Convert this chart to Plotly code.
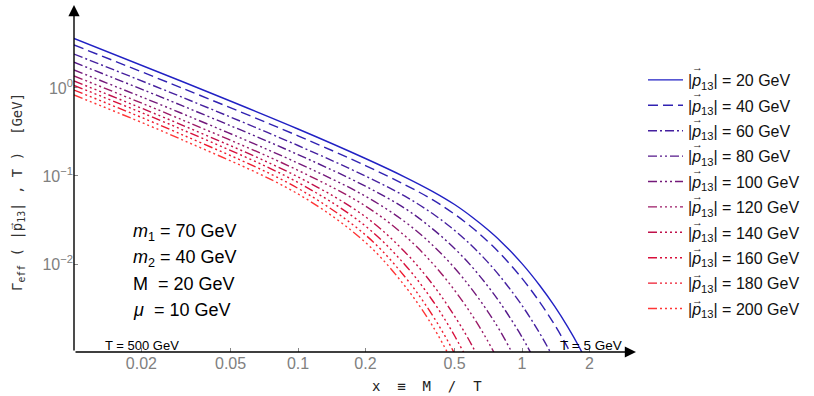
import plotly.graph_objects as go

# momentum values |p13| in GeV (legend categories)
p13 = [20, 40, 60, 80, 100, 120, 140, 160, 180, 200]

# x = M/T sample points
x_vals = [0.01, 0.03, 0.1, 0.2, 0.3, 0.4, 0.5, 0.6, 0.7, 0.8, 1.0, 1.2, 1.4, 1.6, 1.8, 2.0]

# Gamma_eff values (GeV), one list per |p13|
g_20  = [3.65, 1.20, 0.342, 0.158, 0.0973, 0.0665, 0.0474, 0.0340, 0.0248, 0.0183, 0.0101, 0.0057, 0.0033, 0.00193, 0.00114, 0.00067]
g_40  = [3.08, 1.01, 0.286, 0.1315, 0.0796, 0.0535, 0.0368, 0.0258, 0.0183, 0.0131, 0.00686, 0.00369, 0.00203, 0.00112, 0.00062, 0.00035]
g_60  = [2.43, 0.796, 0.222, 0.0998, 0.0589, 0.0372, 0.0241, 0.0159, 0.01064, 0.00718, 0.00338, 0.00163, 0.00080, 0.00039, None, None]
g_80  = [1.96, 0.638, 0.175, 0.0766, 0.0429, 0.0249, 0.0150, 0.0092, 0.0057, 0.0036, 0.00148, 0.00062, None, None, None, None]
g_100 = [1.60, 0.520, 0.140, 0.0589, 0.0302, 0.01626, 0.0090, 0.00508, 0.00294, 0.00172, 0.00060, None, None, None, None, None]
g_120 = [1.37, 0.441, 0.116, 0.0456, 0.0209, 0.01008, 0.00503, 0.00259, 0.00136, 0.00072, None, None, None, None, None, None]
g_140 = [1.20, 0.384, 0.0977, 0.0344, 0.0137, 0.00581, 0.00256, 0.00117, 0.00053, None, None, None, None, None, None, None]
g_160 = [1.07, 0.341, 0.0843, 0.0270, 0.00982, 0.00380, 0.00153, 0.00063, None, None, None, None, None, None, None, None]
g_180 = [0.948, 0.299, 0.0724, 0.0214, 0.00716, 0.00257, 0.00096, 0.00036, None, None, None, None, None, None, None, None]
g_200 = [0.832, 0.262, 0.0625, 0.0176, 0.00562, 0.00195, 0.00069, None, None, None, None, None, None, None, None, None]

series = [g_20, g_40, g_60, g_80, g_100, g_120, g_140, g_160, g_180, g_200]

colors = ["#2121c4", "#3022b2", "#45209f", "#55198a", "#74197a", "#9c1a66",
          "#c0104a", "#d80f3a", "#ee1a2e", "#ff3636"]

def dash_for(i):
    if i == 0:
        return "solid"
    if i == 1:
        return "10px,5px"
    pattern = ["9px", "3px"]
    for _ in range(i - 1):
        pattern += ["2px", "3px"]
    return ",".join(pattern)

x_ticks = [0.02, 0.05, 0.1, 0.2, 0.5, 1, 2]
x_ticktext = ["0.02", "0.05", "0.1", "0.2", "0.5", "1", "2"]
y_ticks = [1, 0.1, 0.01]
y_ticktext = ["10<sup>0</sup>", "10<sup>\u22121</sup>", "10<sup>\u22122</sup>"]

fig = go.Figure()
for i, (p, g) in enumerate(zip(p13, series)):
    xs = [x for x, v in zip(x_vals, g) if v is not None]
    ys = [v for v in g if v is not None]
    fig.add_trace(go.Scatter(
        x=xs, y=ys, mode="lines", legendgroup="g%d" % i,
        line=dict(color=colors[i], width=1.4, dash=dash_for(i), shape="spline", smoothing=1.0),
        name="|<i>p</i><sub>13</sub>| = %d GeV" % p,
    ))

L, T, W, H = 74, 5, 560, 347
def px(xp):
    return (xp - L) / W
def py(yp):
    return 1 - (yp - T) / H

fig.update_layout(
    width=814, height=396,
    margin=dict(l=L, r=814 - L - W, t=T, b=396 - T - H, autoexpand=False),
    paper_bgcolor="white", plot_bgcolor="white",
    font=dict(family="Liberation Sans, Arial, sans-serif", size=16, color="#000"),
    showlegend=True,
    legend=dict(x=px(643), xanchor="left", y=py(63), yanchor="top",
                font=dict(size=16, color="#111"), bgcolor="rgba(0,0,0,0)",
                itemwidth=35, tracegroupgap=1.6),
    xaxis=dict(type="log", range=[-2, 0.5], showgrid=False, zeroline=False, showline=False,
               tickvals=x_ticks, ticktext=x_ticktext, ticks="inside", ticklen=4,
               tickcolor="#888", tickfont=dict(size=16, color="#808080")),
    yaxis=dict(type="log", range=[-3, 0.943], showgrid=False, zeroline=False, showline=False,
               tickvals=y_ticks, ticktext=y_ticktext, ticks="inside", ticklen=4,
               tickcolor="#888", tickfont=dict(size=16, color="#808080")),
)

# axes with arrow heads
fig.add_annotation(xref="paper", yref="paper", x=0, y=1.0, ax=0, ay=H, axref="pixel", ayref="pixel",
                   showarrow=True, arrowhead=2, arrowsize=1.6, arrowwidth=1.4, arrowcolor="#000",
                   text="", standoff=0, startstandoff=0)
fig.add_annotation(xref="paper", yref="paper", x=px(636), y=0, ax=-(636 - L), ay=0,
                   axref="pixel", ayref="pixel",
                   showarrow=True, arrowhead=2, arrowsize=1.6, arrowwidth=1.4, arrowcolor="#000",
                   text="", standoff=0, startstandoff=0)

mono = "DejaVu Sans Mono, Liberation Mono, monospace"
fig.add_annotation(xref="paper", yref="paper", x=px(427), y=py(386),
                   text="x  \u2261  M  /  T", showarrow=False, font=dict(family=mono, size=14, color="#222"),
                   xanchor="center", yanchor="middle")
fig.add_annotation(xref="paper", yref="paper", x=px(18), y=py(192),
                   text="\u0393<sub>eff</sub> ( |p<sub>13</sub>| , T )  [GeV]",
                   textangle=-90, showarrow=False, font=dict(family=mono, size=14, color="#333"),
                   xanchor="center", yanchor="middle")
# vector arrow over p in the axis title
fig.add_annotation(xref="paper", yref="paper", x=px(11), y=py(226),
                   text="\u2192", textangle=-90, showarrow=False, font=dict(size=10, color="#333"),
                   xanchor="center", yanchor="middle")

# vector arrows over p in the legend entries
row0, drow = 76.7, 25.9
for k in range(len(p13)):
    fig.add_annotation(xref="paper", yref="paper", x=px(697), y=py(row0 + k * drow - 10),
                       text="\u2192", showarrow=False, font=dict(size=11, color="#111"),
                       xanchor="center", yanchor="middle")

params = ["<i>m</i><sub>1</sub> = 70 GeV", "<i>m</i><sub>2</sub> = 40 GeV",
          "M  = 20 GeV", "<i>\u03bc</i>  = 10 GeV"]
for txt, yy in zip(params, [232, 258, 284, 310]):
    fig.add_annotation(xref="paper", yref="paper", x=px(131), y=py(yy),
                       text=txt, showarrow=False, xanchor="left", yanchor="middle",
                       font=dict(size=18, color="#000"))

fig.add_annotation(xref="paper", yref="paper", x=px(103), y=py(345),
                   text="T = 500 GeV", showarrow=False, xanchor="left", yanchor="middle",
                   font=dict(size=13, color="#000"))
fig.add_annotation(xref="paper", yref="paper", x=px(558), y=py(345),
                   text="T = 5 GeV", showarrow=False, xanchor="left", yanchor="middle",
                   font=dict(size=13.5, color="#000"))

fig.write_html("out.html", config={"displayModeBar": False},
               post_script="document.body.style.margin='0px';document.body.style.overflow='hidden';")
